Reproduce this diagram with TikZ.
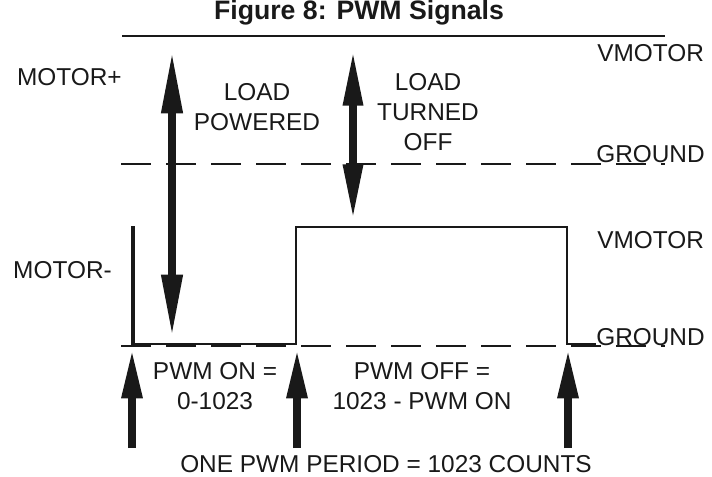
\documentclass[tikz,border=0pt]{standalone}
\usepackage{fontspec}
\setmainfont{Liberation Sans}
\usetikzlibrary{arrows.meta}
\colorlet{inkblack}{black!90}

\begin{document}
\begin{tikzpicture}[
    x=0.75pt, y=-0.75pt,
    lbl/.style={
        inner sep=0pt, text=inkblack,
        font=\fontsize{18.3}{22.5}\selectfont
    },
    rail/.style={
        line width=2.2pt, draw=inkblack
    },
    groundline/.style={
        line width=2.2pt, draw=inkblack,
        dash pattern=on 22.5pt off 11.25pt
    },
    signal/.style={
        line width=1.8pt, draw=inkblack
    },
    bigarrow/.style={
        line width=5.5pt, draw=inkblack,
        {Triangle[length=46pt, width=15pt]}-{Triangle[length=46pt, width=15pt]}
    },
    midarrow/.style={
        line width=5.5pt, draw=inkblack,
        {Triangle[length=41pt, width=14pt]}-{Triangle[length=41pt, width=14pt]}
    },
    markarrow/.style={
        line width=6pt, draw=inkblack,
        -{Triangle[length=37pt, width=14.5pt]}
    }
]
\useasboundingbox (0,0) rectangle (712,477);

% ===== Title =====
\node[lbl, font=\fontsize{20}{24}\bfseries] (title) at (359,13) {Figure 8: PWM Signals};

% ===== Levels =====
\coordinate (vtopL) at (122,36);
\coordinate (vtopR) at (665,36);
\coordinate (gtopL) at (121,164);
\coordinate (gtopR) at (665,164);
\coordinate (gbotL) at (121,346);
\coordinate (gbotR) at (665,346);

\draw[rail] (vtopL) -- (vtopR);
\draw[groundline] (gtopL) -- (gtopR);
\draw[groundline] (gbotL) -- (gbotR);

\node[lbl, anchor=west]      (vm1) at (597,53)  {VMOTOR};
\node[lbl, anchor=base west] (gnd1) at (596,163) {GROUND};
\node[lbl, anchor=west]      (vm2) at (597,240) {VMOTOR};
\node[lbl, anchor=base west] (gnd2) at (596,345) {GROUND};

\node[lbl, anchor=east] (mplus)  at (122,77)  {MOTOR+};
\node[lbl, anchor=east] (mminus) at (112,270) {MOTOR-};

% ===== Signal =====
\draw[line width=2.6pt, draw=inkblack] (133,226) -- (133,345);
\draw[signal] (133,344) -- (296,344) -- (296,227) -- (567,227)
    -- (567,344) -- (596,344);

% ===== Load arrows =====
\coordinate (pwrTop) at (172,52);
\coordinate (pwrBot) at (172,336);
\coordinate (offTop) at (353,51);
\coordinate (offBot) at (353,219);

\draw[bigarrow] (pwrTop) -- (pwrBot);
\draw[midarrow] (offTop) -- (offBot);

\node[lbl, align=center] (powered) at (257,107) {LOAD\\POWERED};
\node[lbl, align=center] (turned)  at (428,112) {LOAD\\TURNED\\OFF};

% ===== Period markers =====
\coordinate (m1b) at (132,448);  \coordinate (m1t) at (132,349);
\coordinate (m2b) at (297,448);  \coordinate (m2t) at (297,349);
\coordinate (m3b) at (568,448);  \coordinate (m3t) at (568,349);

\draw[markarrow] (m1b) -- (m1t);
\draw[markarrow] (m2b) -- (m2t);
\draw[markarrow] (m3b) -- (m3t);

\node[lbl, align=center] (pwmon)  at (215,386) {PWM ON =\\0-1023};
\node[lbl, align=center] (pwmoff) at (422,386) {PWM OFF =\\1023 - PWM ON};
\node[lbl] (period) at (386,464) {ONE PWM PERIOD = 1023 COUNTS};

\end{tikzpicture}
\end{document}
